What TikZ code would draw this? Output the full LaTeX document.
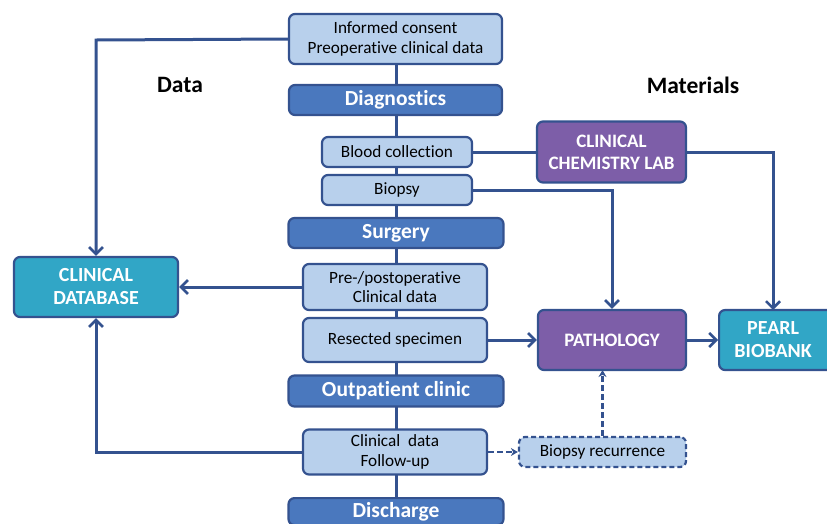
\documentclass[tikz,border=0pt]{standalone}
\usepackage{fontspec}
\setmainfont[Ligatures=NoCommon]{Carlito}
\usetikzlibrary{arrows.meta}
\definecolor{lineblue}{HTML}{34528F}
\definecolor{lightfill}{HTML}{B8D0EC}
\definecolor{darkfill}{HTML}{4A78BE}
\definecolor{tealfill}{HTML}{31A6C6}
\definecolor{purplefill}{HTML}{7D5EA8}
\tikzset{
  base/.style={draw=lineblue, line width=2.2pt, rounded corners=6pt, align=center, inner sep=0pt},
  light/.style={base, fill=lightfill, font=\fontsize{17.2}{19.5}\selectfont, text=black},
  phase/.style={base, fill=darkfill, text=white, font=\fontsize{21.5}{24}\selectfont\bfseries},
  teal/.style={base, fill=tealfill, text=white, font=\fontsize{20}{23}\selectfont\bfseries},
  purple/.style={base, fill=purplefill, text=white, font=\fontsize{19}{22}\selectfont\bfseries},
  conn/.style={draw=lineblue, line width=3pt},
  arr/.style={conn, -{Straight Barb[length=7pt,width=14pt,line width=2.6pt]}},
  darr/.style={draw=lineblue, line width=2.4pt, dashed, dash pattern=on 6pt off 3pt, -{Stealth[length=7pt,width=8pt]}},
  lbl/.style={font=\fontsize{23.5}{26}\selectfont\bfseries, text=black}
}
\begin{document}
\begin{tikzpicture}[x=1pt,y=-1pt]
\useasboundingbox (0,0) rectangle (827,523);
\begin{scope}
\clip (0,0) rectangle (827,523);
% spine
\coordinate (top) at (396,40);
\coordinate (bot) at (396,505);
\draw[conn] (top) -- (bot);
\node[light, minimum width=213pt, minimum height=50pt] (consent) at (395.5,39) {Informed consent\\Preoperative clinical data};
\node[phase, minimum width=213pt, minimum height=30pt] (diag) at (395.5,100) {Diagnostics};
\node[light, minimum width=150pt, minimum height=30pt] (blood) at (397,152) {Blood collection};
\node[light, minimum width=150pt, minimum height=30pt] (biopsy) at (397,190) {Biopsy};
\node[phase, minimum width=215pt, minimum height=30pt] (surg) at (396,233) {Surgery};
\node[light, minimum width=184pt, minimum height=46pt] (prepost) at (395,287) {Pre-/postoperative\\Clinical data};
\node[light, minimum width=184pt, minimum height=44pt] (resect) at (395,340) {Resected specimen};
\node[phase, minimum width=215pt, minimum height=31pt] (outp) at (396,391) {Outpatient clinic};
\node[light, minimum width=184pt, minimum height=45pt] (follow) at (395,452) {Clinical\ \ data\\Follow-up};
\node[phase, minimum width=215pt, minimum height=27pt, anchor=north] (disch) at (396,497) {Discharge};

\node[teal, minimum width=164pt, minimum height=60pt] (db) at (96,287) {CLINICAL\\DATABASE};
\node[purple, minimum width=149pt, minimum height=61pt] (ccl) at (611.5,152) {CLINICAL\\CHEMISTRY LAB};
\node[purple, minimum width=148pt, minimum height=60pt] (path) at (612,340) {PATHOLOGY};
\node[teal, minimum width=118pt, minimum height=60pt, anchor=west] (pearl) at (718,340) {\hspace*{-10pt}PEARL\\\hspace*{-10pt}BIOBANK};
\node[light, dashed, dash pattern=on 5pt off 3pt, minimum width=167pt, minimum height=30pt] (rec) at (602.5,452) {Biopsy recurrence};

\node[lbl] (ldata) at (180,85) {Data};
\node[lbl] (lmat) at (693,85) {Materials};

% connectors
\draw[arr] (consent.west) -- (96,40) -- (db.north);
\draw[arr] (follow.west) -- (96,452) -- (db.south);
\draw[arr] (prepost.west) -- (db.east);
\draw[conn] (blood.east) -- (ccl.west);
\draw[arr] (ccl.east) -- (773,152) -- (773,310);
\draw[arr] (biopsy.east) -- (612,190) -- (path.north);
\draw[arr] (resect.east) -- (path.west);
\draw[arr] (path.east) -- (pearl.west);
\draw[darr] (follow.east) -- (rec.west);
\draw[darr] (rec.north) -- (602.5,370);
\end{scope}
\end{tikzpicture}
\end{document}
